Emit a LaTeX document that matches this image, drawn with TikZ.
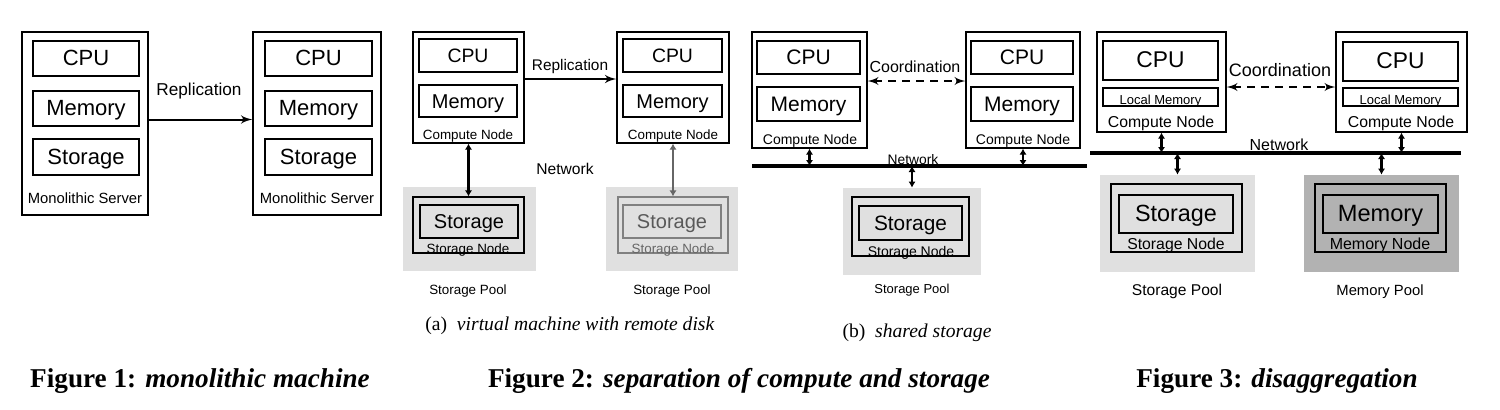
\documentclass[tikz,border=0pt]{standalone}
\usepackage{fontspec}
\setsansfont{Liberation Sans}
\newfontfamily\capfont{Liberation Serif}
\usetikzlibrary{arrows}
\usetikzlibrary{arrows.meta}
\newcommand{\fsz}[1]{\fontsize{#1}{#1}\selectfont}

\begin{document}
\begin{tikzpicture}
		[x=0.5pt,y=-0.5pt,>=latex',
		box/.style={draw,line width=0.6pt,inner sep=0pt,font=\sffamily\fsz{#1},text height=0.72em,text depth=0pt},
		box/.default=10,
		sz/.style 2 args={minimum width=#1*0.5pt,minimum height=#2*0.5pt},
		lbl/.style={inner sep=0pt,font=\sffamily\fsz{#1},text height=0.72em,text depth=0pt},
		pool/.style={fill=#1,inner sep=0pt},
		bus/.style={line width=1.6pt},
		link/.style={{Latex[length=3pt,width=3.6pt]}-{Latex[length=3pt,width=3.6pt]},line width=1.1pt},
		coord/.style={<->,line width=0.9pt,dash pattern=on 4pt off 3pt},
		figcap/.style={inner sep=0pt,anchor=base,font=\capfont\fsz{13.6}},
		subcap/.style={inner sep=0pt,anchor=base,font=\capfont\fsz{9.8}}]
		\useasboundingbox (0,0) rectangle (1500,409);
		\node [box, sz={126}{183}] (srv1) at (85,123.5) {};
		\node [box=11, sz={106}{35}] (cpu1) at (86,58.5) {CPU};
		\node [box=11, sz={106}{35}] (mem1) at (86,108.5) {Memory};
		\node [box=11, sz={106}{36}] (sto1) at (86,157) {Storage};
		\node [lbl=7.4] (ms1) at (85,196) {Monolithic Server};
		\node [box, sz={128}{183}] (srv2) at (317,123.5) {};
		\node [box=11, sz={107}{35}] (cpu2) at (318.5,58.5) {CPU};
		\node [box=11, sz={107}{35}] (mem2) at (318.5,108.5) {Memory};
		\node [box=11, sz={107}{36}] (sto2) at (318.5,157) {Storage};
		\node [lbl=7.4] (ms2) at (317,196) {Monolithic Server};
		\node [lbl=8.6] (rep1) at (199,88) {Replication};
		\draw [->,line width=1pt] ([yshift=2pt]srv1.east) -- ([yshift=2pt]srv2.west);

		\node [box, sz={111}{111}] (cn1) at (468.5,87.5) {};
		\node [box=9.7, sz={98}{33}] (cpu3) at (468,55.5) {CPU};
		\node [box=10, sz={98}{32}] (mem3) at (468,101) {Memory};
		\node [lbl=6.7] (cnl1) at (468,132) {Compute Node};
		\node [box, sz={112}{111}] (cn2) at (673,87.5) {};
		\node [box=9.7, sz={99}{33}] (cpu4) at (672.5,55.5) {CPU};
		\node [box=10, sz={99}{32}] (mem4) at (672.5,101) {Memory};
		\node [lbl=6.7] (cnl2) at (673,132) {Compute Node};
		\node [lbl=7.7] (rep2) at (570,63) {Replication};
		\draw [->,line width=1pt] ([yshift=4.25pt]cn1.east) -- ([yshift=4.25pt]cn2.west);
		\node [lbl=7.8] (net1) at (565,167) {Network};
		\node [pool=black!12, sz={133}{84}] (pool1) at (469.5,229) {};
		\node [box, sz={111}{56}] (sn1) at (468.5,225) {};
		\node [box=10, sz={98}{33}] (st1) at (469,221.5) {Storage};
		\node [lbl=6.7] (snl1) at (468,246) {Storage Node};
		\node [lbl=6.7] (spl1) at (468,287) {Storage Pool};
		\node [pool=black!12, sz={132}{84}] (pool2) at (672,229) {};
		\node [box, draw=black!50, sz={110}{56}] (sn2) at (673,225) {};
		\node [box=10, draw=black!50, text=black!65, sz={98}{33}] (st2) at (672,221.5) {Storage};
		\node [lbl=6.7, text=black!60] (snl2) at (673,246) {Storage Node};
		\node [lbl=6.7] (spl2) at (672,287) {Storage Pool};
		\draw [link] (cn1) -- (sn1);
		\draw [link, color=black!60] (cn2) -- (sn2);

		\node [box, sz={115}{116}] (cn3) at (809.5,90) {};
		\node [box=10.5, sz={103}{33}] (cpu5) at (808.5,57.5) {CPU};
		\node [box=10.5, sz={103}{34}] (mem5) at (808.5,104) {Memory};
		\node [lbl=7] (cnl3) at (810,137) {Compute Node};
		\node [box, sz={114}{116}] (cn4) at (1023,90) {};
		\node [box=10.5, sz={102}{33}] (cpu6) at (1022,57.5) {CPU};
		\node [box=10.5, sz={102}{34}] (mem6) at (1022,104) {Memory};
		\node [lbl=7] (cnl4) at (1023,137) {Compute Node};
		\node [lbl=8] (co1) at (915,65) {Coordination};
		\draw [coord] ([yshift=4.5pt]cn3.east) -- ([yshift=4.5pt]cn4.west);
		\coordinate (bus1a) at (752,166);
		\coordinate (bus1b) at (1087,166);
		\draw [bus] (bus1a) -- (bus1b);
		\node [lbl=6.9] (net2) at (913,157) {Network};
		\node [pool=black!12, sz={138}{87}] (pool3) at (912,231.5) {};
		\node [box, sz={117}{59}] (sn3) at (910.5,226.5) {};
		\node [box=10.4, sz={103}{34}] (st3) at (910.5,223) {Storage};
		\node [lbl=7] (snl3) at (911,249) {Storage Node};
		\node [lbl=6.5] (spl3) at (912,286) {Storage Pool};
		\draw [link] (cn3.south) -- (cn3.south |- bus1a);
		\draw [link] (cn4.south) -- (cn4.south |- bus1a);
		\draw [link] (pool3.north |- bus1a) -- (pool3.north);

		\node [box, sz={129}{100}] (cn5) at (1161.5,82) {};
		\node [box=11.4, sz={115}{39}] (cpu7) at (1160.5,60.5) {CPU};
		\node [box=6.5, sz={115}{18}] (lm1) at (1160.5,97) {Local Memory};
		\node [lbl=7.9] (cnl5) at (1161,120) {Compute Node};
		\node [box, sz={131}{100}] (cn6) at (1401.5,82) {};
		\node [box=11.4, sz={115}{39}] (cpu8) at (1400.5,61.5) {CPU};
		\node [box=6.5, sz={115}{18}] (lm2) at (1400.5,97) {Local Memory};
		\node [lbl=7.9] (cnl6) at (1401,120) {Compute Node};
		\node [lbl=9] (co2) at (1280,69) {Coordination};
		\draw [coord] ([yshift=-2.5pt]cn5.east) -- ([yshift=-2.5pt]cn6.west);
		\coordinate (bus2a) at (1090,153);
		\coordinate (bus2b) at (1461,153);
		\draw [bus] (bus2a) -- (bus2b);
		\node [lbl=8] (net3) at (1279,143) {Network};
		\node [pool=black!12, sz={155}{97}] (pool4) at (1177.5,223.5) {};
		\node [box, sz={131}{68}] (sn4) at (1176.5,218) {};
		\node [box=11.7, sz={114}{38}] (st4) at (1176,214) {Storage};
		\node [lbl=7.9] (snl4) at (1176,242) {Storage Node};
		\node [lbl=7.8] (spl4) at (1177,288) {Storage Pool};
		\node [pool=black!30, sz={155}{97}] (pool5) at (1381.5,223.5) {};
		\node [box, sz={131}{68}] (mn1) at (1380.5,218) {};
		\node [box=11.8, sz={115}{38}] (me1) at (1380.5,214) {Memory};
		\node [lbl=8] (mnl1) at (1380,242) {Memory Node};
		\node [lbl=7.4] (mpl1) at (1380,288) {Memory Pool};
		\draw [link] (cn5.south) -- (cn5.south |- bus2a);
		\draw [link] (cn6.south) -- (cn6.south |- bus2a);
		\draw [link] (pool4.north |- bus2a) -- (pool4.north);
		\draw [link] (pool5.north |- bus2a) -- (pool5.north);

		\node [subcap] (suba) at (570,330) {(a)\enspace\textit{virtual machine with remote disk}};
		\node [subcap] (subb) at (917,337) {(b)\enspace\textit{shared storage}};
		\node [figcap] (fig1) at (200,387) {\textbf{Figure 1: \textit{monolithic machine}}};
		\node [figcap] (fig2) at (739,387) {\textbf{Figure 2: \textit{separation of compute and storage}}};
		\node [figcap] (fig3) at (1277,387) {\textbf{Figure 3: \textit{disaggregation}}};
	\end{tikzpicture}
\end{document}
